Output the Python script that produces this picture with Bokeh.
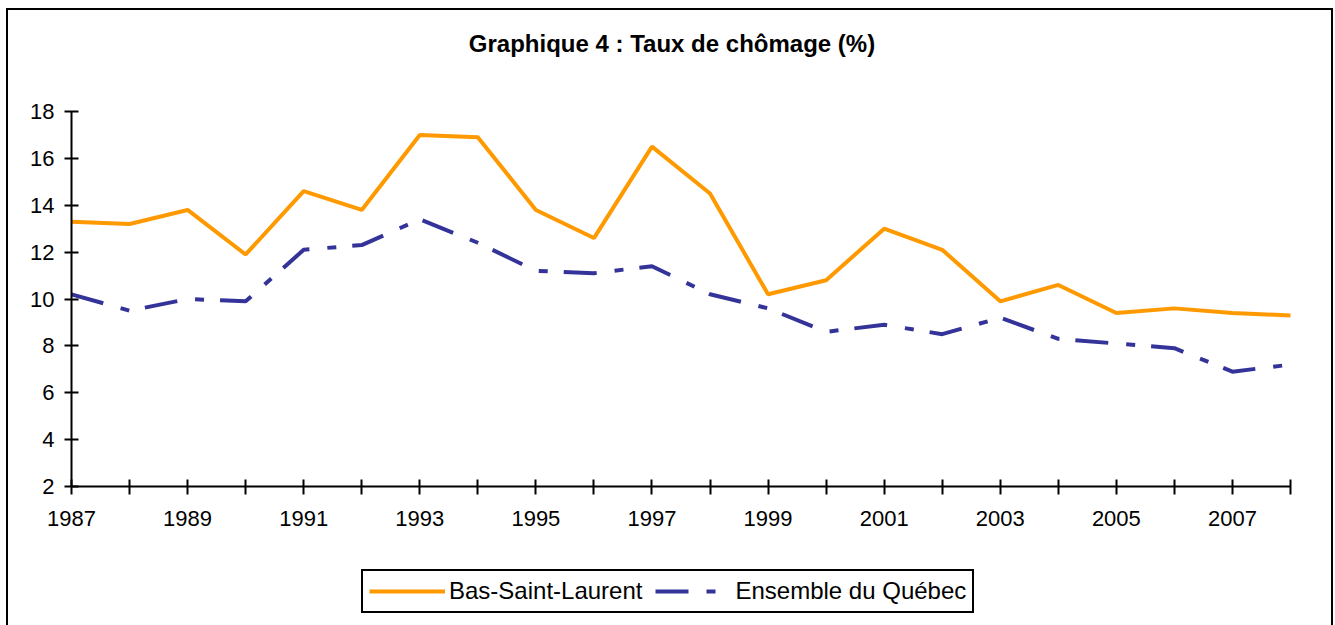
from bokeh.plotting import figure
from bokeh.models import FixedTicker, Legend, LegendItem, Label, Range1d
from bokeh.embed import file_html
from bokeh.resources import INLINE

# ---- data ----
years = list(range(1987, 2009))
bas_saint_laurent = [13.3, 13.2, 13.8, 11.9, 14.6, 13.8, 17.0, 16.9, 13.8, 12.6, 16.5,
                     14.5, 10.2, 10.8, 13.0, 12.1, 9.9, 10.6, 9.4, 9.6, 9.4, 9.3]
ensemble_quebec = [10.2, 9.5, 10.0, 9.9, 12.1, 12.3, 13.4, 12.4, 11.2, 11.1, 11.4,
                   10.2, 9.6, 8.6, 8.9, 8.5, 9.2, 8.3, 8.1, 7.9, 6.9, 7.2]
y_ticks = [2, 4, 6, 8, 10, 12, 14, 16, 18]
title_text = "Graphique 4 : Taux de chômage (%)"
series_names = ["Bas-Saint-Laurent", "Ensemble du Québec"]

FONT = "Liberation Sans"

# ---- layout (pixels) ----
FIG_W, FIG_H = 1327, 617
CANVAS_W, CANVAS_H = FIG_W, FIG_H
ORIGIN_X, ORIGIN_Y = 8, 10            # page position of the canvas
AX_LEFT, AX_RIGHT = 71, 1290          # page x of first / last year
AX_TOP, AX_BOTTOM = 111, 486          # page y of y=18 / y=2

x_lo, x_hi = years[0], years[-1]
y_lo, y_hi = y_ticks[0], y_ticks[-1]
px_per_x = (AX_RIGHT - AX_LEFT) / (x_hi - x_lo)
px_per_y = (AX_BOTTOM - AX_TOP) / (y_hi - y_lo)
x_start = x_lo - (AX_LEFT - ORIGIN_X) / px_per_x
x_end = x_start + CANVAS_W / px_per_x
y_end = y_hi + (AX_TOP - ORIGIN_Y) / px_per_y
y_start = y_end - CANVAS_H / px_per_y
BOTTOM_Y = ORIGIN_Y + CANVAS_H

p = figure(width=FIG_W, height=FIG_H, output_backend="svg", toolbar_location=None,
           title=None, x_range=Range1d(x_start, x_end), y_range=Range1d(y_start, y_end),
           min_border=0, min_border_left=0, min_border_right=0, min_border_top=0,
           min_border_bottom=0)
p.margin = (8, 0, 0, 6)
p.styles = {"border-top": "2px solid black", "border-left": "2px solid black",
            "border-right": "2px solid black", "box-sizing": "border-box"}
p.outline_line_color = None
p.xgrid.visible = False
p.ygrid.visible = False
p.background_fill_color = "white"
p.border_fill_color = "white"

l1 = p.line(years, bas_saint_laurent, line_color="#FF9900", line_width=4)
l2 = p.line(years, ensemble_quebec, line_color="#333399", line_width=4,
            line_dash="33 18 9 16")

# axes (fixed inside the frame)
p.xaxis.fixed_location = y_lo
p.xaxis.bounds = (x_lo, x_hi)
p.yaxis.fixed_location = x_lo
p.yaxis.bounds = (y_lo, y_hi)
p.xaxis.ticker = FixedTicker(ticks=years)
p.xaxis.major_label_overrides = {y: (str(y) if (y - 1987) % 2 == 0 else "") for y in years}
p.yaxis.ticker = FixedTicker(ticks=y_ticks)
for ax in (p.xaxis[0], p.yaxis[0]):
    ax.axis_line_color = "black"
    ax.axis_line_width = 2
    ax.major_tick_line_color = "black"
    ax.major_tick_line_width = 2
    ax.minor_tick_line_color = None
    ax.major_label_text_font = FONT
    ax.major_label_text_font_size = "22px"
    ax.major_label_text_color = "black"
p.xaxis.major_tick_in = 7
p.xaxis.major_tick_out = 8
p.xaxis.major_label_standoff = 16
p.yaxis.major_tick_in = 7
p.yaxis.major_tick_out = 7
p.yaxis.major_label_standoff = 10

# title
p.add_layout(Label(x=671.5 - ORIGIN_X, y=BOTTOM_Y - 43,
                   x_units="screen", y_units="screen", text=title_text,
                   text_font=FONT, text_font_size="24px", text_font_style="bold",
                   text_align="center", text_baseline="middle", text_color="black"))

# legend
legend = Legend(items=[LegendItem(label=series_names[0], renderers=[l1]),
                       LegendItem(label=series_names[1], renderers=[l2])],
                location=(361 - ORIGIN_X, BOTTOM_Y - 613),
                orientation="horizontal",
                glyph_width=76, glyph_height=20, label_standoff=4, spacing=13,
                padding=6, margin=0, label_height=27,
                label_text_font=FONT, label_text_font_size="24px",
                label_text_color="black",
                border_line_color="black", border_line_width=2, border_line_alpha=1,
                background_fill_color="white", background_fill_alpha=1)
p.add_layout(legend)

open("out.html", "w").write(file_html(p, INLINE))
